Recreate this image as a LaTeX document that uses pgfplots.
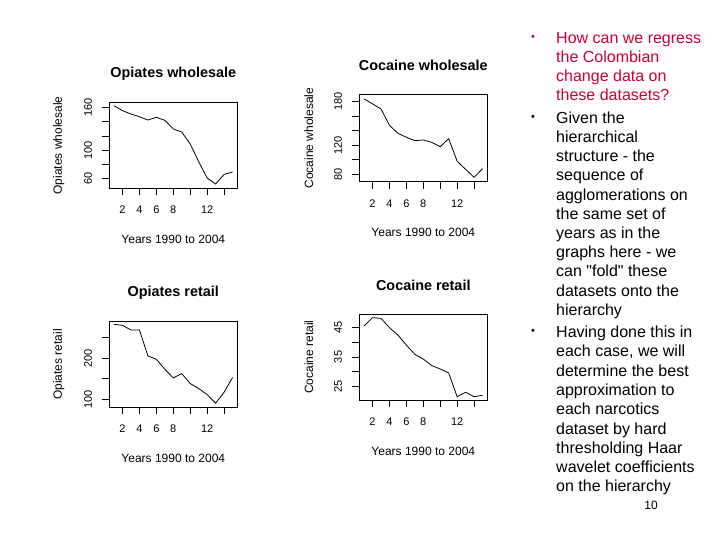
\documentclass[border=0pt]{standalone}
\usepackage{fontspec}
\setmainfont{Liberation Sans}
\newfontfamily\plainfont{Liberation Sans}
\usepackage{pgfplots}
\pgfplotsset{compat=1.18}
\definecolor{slidered}{RGB}{204,0,51}
\pgfplotsset{rplot/.style={
  scale only axis, width=128pt,
  xmin=0.44, xmax=15.56,
  axis line style={line width=0.8pt, black},
  tick align=outside, xtick pos=left, ytick pos=left,
  major tick length=7pt,
  every tick/.style={line width=0.8pt, black},
  xtick={2,4,...,14}, xticklabels={2,4,6,8,,12,},
  xticklabel style={anchor=north, inner sep=0pt, font=\fontsize{11}{13}\selectfont},
  xticklabel shift=10.7pt,
  yticklabel style={rotate=90, anchor=south, inner sep=0pt, font=\fontsize{11}{13}\selectfont},
  yticklabel shift=10pt,
  every axis title/.style={at={(axis description cs:0.5,1)}, anchor=center, yshift=29pt, font=\bfseries\fontsize{14.4}{16}\selectfont},
  every axis x label/.style={at={(axis description cs:0.5,0)}, anchor=center, yshift=-51pt, font=\fontsize{12}{14}\selectfont},
  every axis y label/.style={at={(axis description cs:-0.395,0.5)}, anchor=center, rotate=90, font=\fontsize{12}{14}\selectfont},
  xlabel={Years 1990 to 2004},
}}
\newcommand\tl[2]{\node[anchor=base west, inner sep=0pt, font=\fontsize{16}{19}\selectfont] at (556pt,{540pt-#1pt-5.5pt}) {#2};}
\begin{document}
\begin{tikzpicture}
\path[fill=white,use as bounding box] (0pt,0pt) rectangle (720pt,540pt);

\begin{axis}[rplot, at={(109.3pt,351.7pt)}, anchor=south west, height=85.6pt,
  ymin=46.5, ymax=167, ytick={60,80,...,160}, yticklabels={60,,100,,,160},
  title={Opiates wholesale}, ylabel={Opiates wholesale}]
\addplot[black, line width=0.8pt] coordinates {(1,162.8)(2,155.8)(3,151)(4,147.3)(5,142.6)(6,146.4)(7,142.2)(8,130)(9,125.7)(10,108.8)(11,84)(12,61)(13,52.5)(14,66)(15,69.4)};
\end{axis}

\begin{axis}[rplot, at={(359.3pt,358.3pt)}, anchor=south west, height=87.4pt,
  ymin=69.9, ymax=190, ytick={80,100,...,180}, yticklabels={80,,120,,,180},
  title={Cocaine wholesale}, ylabel={Cocaine wholesale}]
\addplot[black, line width=0.8pt] coordinates {(1,183.7)(2,176.8)(3,169.9)(4,147.4)(5,136.4)(6,130.9)(7,126.3)(8,127.2)(9,124)(10,118)(11,129)(12,97.9)(13,86.9)(14,75.9)(15,87.8)};
\end{axis}

\begin{axis}[rplot, at={(109.3pt,132.7pt)}, anchor=south west, height=85.6pt,
  ymin=80.5, ymax=289.2, ytick={100,150,200,250}, yticklabels={100,,200,},
  title={Opiates retail}, ylabel={Opiates retail}]
\addplot[black, line width=0.8pt] coordinates {(1,282.7)(2,280.3)(3,268.9)(4,268.9)(5,205.7)(6,197.6)(7,173.2)(8,152.1)(9,162.7)(10,138.4)(11,126.2)(12,111.6)(13,90.5)(14,117.3)(15,153)};
\end{axis}

\begin{axis}[rplot, at={(359.3pt,140pt)}, anchor=south west, height=85.7pt,
  ymin=20.5, ymax=49.4, ytick={25,30,...,45}, yticklabels={25,,35,,45},
  title={Cocaine retail}, ylabel={Cocaine retail}]
\addplot[black, line width=0.8pt] coordinates {(1,45.45)(2,48.26)(3,48.03)(4,44.9)(5,42.4)(6,39.0)(7,35.9)(8,34.3)(9,32.1)(10,30.96)(11,29.6)(12,21.6)(13,23.1)(14,21.6)(15,22.1)};
\end{axis}

\begin{scope}[slidered]
\node[anchor=center, inner sep=0pt, font=\fontsize{11}{13}\selectfont] at (533pt,502pt) {•};
\tl{38}{How can we regress}
\tl{57}{the Colombian}
\tl{76}{change data on}
\tl{95}{these datasets?}
\end{scope}
\node[anchor=center, inner sep=0pt, font=\fontsize{11}{13}\selectfont] at (533pt,422pt) {•};
\tl{118}{Given the}
\tl{137}{hierarchical}
\tl{156}{structure - the}
\tl{175}{sequence of}
\tl{195}{agglomerations on}
\tl{214}{the same set of}
\tl{233}{years as in the}
\tl{252}{graphs here - we}
\tl{271}{{\plainfont can "fold" these}}
\tl{291}{datasets onto the}
\tl{310}{hierarchy}
\node[anchor=center, inner sep=0pt, font=\fontsize{11}{13}\selectfont] at (533pt,208pt) {•};
\tl{332}{Having done this in}
\tl{351}{each case, we will}
\tl{371}{determine the best}
\tl{390}{approximation to}
\tl{409}{each narcotics}
\tl{429}{dataset by hard}
\tl{448}{thresholding Haar}
\tl{467}{wavelet coefficients}
\tl{486}{on the hierarchy}
\node[anchor=center, inner sep=0pt, font=\fontsize{12}{14}\selectfont] at (651pt,35pt) {10};
\end{tikzpicture}
\end{document}
